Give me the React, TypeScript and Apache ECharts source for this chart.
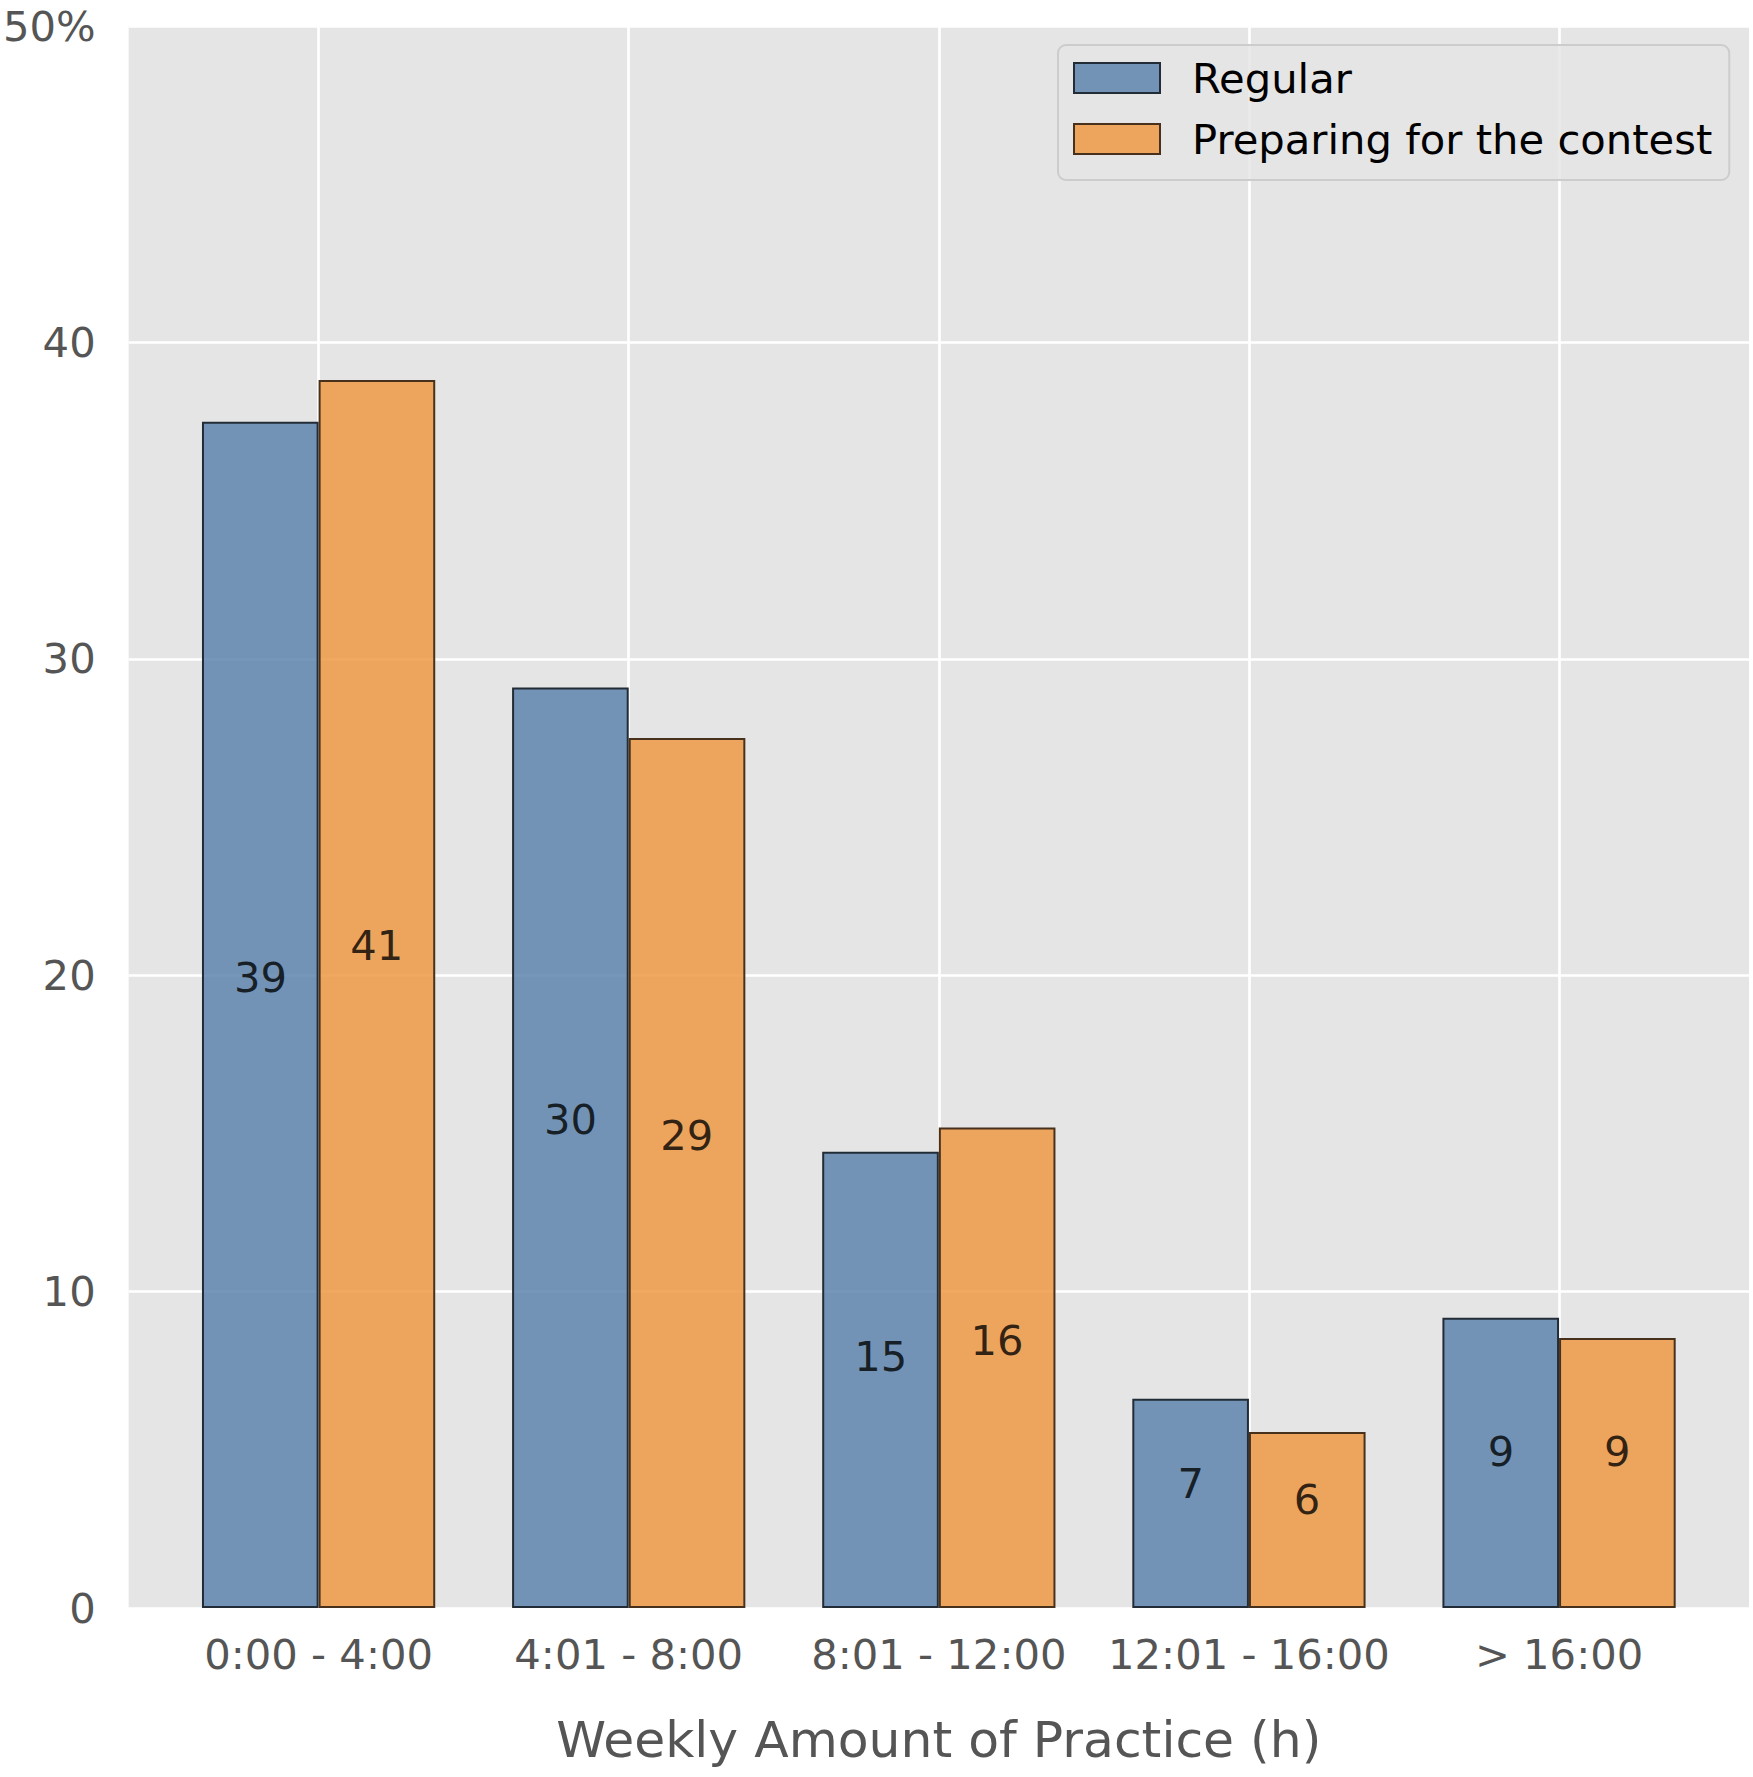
import React, { useEffect, useRef } from "react";
import * as echarts from "echarts";

const categories = ["0:00 - 4:00", "4:01 - 8:00", "8:01 - 12:00", "12:01 - 16:00", "> 16:00"];
const regularValues = [37.49, 29.09, 14.42, 6.61, 9.17];
const preparingValues = [38.81, 27.5, 15.19, 5.56, 8.53];
const regularLabels = [39, 30, 15, 7, 9];
const preparingLabels = [41, 29, 16, 6, 9];
const yTicks = [0, 10, 20, 30, 40, 50];
const seriesNames = ["Regular", "Preparing for the contest"];

const FONT = "DejaVu Sans";
const BAR_W_UNITS = 0.375;

export default function App() {
  const ref = useRef<HTMLDivElement>(null);
  useEffect(() => {
    document.body.style.margin = "0";
    if (!ref.current) return;
    const chart = echarts.init(ref.current, null, { renderer: "svg" });
    const gridLeft = 124;
    const gridRight = 4;
    const width = 1753;
    const xMin = -0.6125;
    const xMax = 4.6125;
    const pxPerUnit = (width - gridLeft - gridRight) / (xMax - xMin);
    const barWidth = BAR_W_UNITS * pxPerUnit;
    const idx = categories.map((_, i) => i);

    const labelStyle = {
      show: true,
      position: "inside",
      offset: [0, -14],
      formatter: (p: any) => `${p.value[2]}`,
      fontFamily: FONT,
      fontSize: 41.7,
      color: "#000000",
    };

    const option: any = {
      animation: false,
      backgroundColor: "#ffffff",
      grid: {
        left: gridLeft,
        right: gridRight,
        top: 26,
        bottom: 169,
        show: true,
        backgroundColor: "#e5e5e5",
        borderWidth: 0,
      },
      legend: {
        data: seriesNames,
        orient: "vertical",
        left: 1058,
        top: 45,
        icon: "rect",
        itemWidth: 86,
        itemHeight: 30,
        itemGap: 19,
        padding: [12, 17, 20, 15],
        backgroundColor: "rgba(229,229,229,0.8)",
        borderColor: "#cccccc",
        borderWidth: 2,
        borderRadius: 8,
        textStyle: {
          fontFamily: FONT,
          fontSize: 41.7,
          color: "#000000",
          padding: [0, 0, 0, 27],
        },
      },
      xAxis: {
        type: "value",
        min: xMin,
        max: xMax,
        axisLine: { show: false },
        axisTick: { show: false, customValues: idx },
        splitLine: { show: true, lineStyle: { color: "#ffffff", width: 2.7 } },
        axisLabel: {
          customValues: idx,
          formatter: (v: number) => categories[Math.round(v)] ?? "",
          fontFamily: FONT,
          fontSize: 41.7,
          color: "#555555",
          margin: 25,
        },
        name: "Weekly Amount of Practice (h)",
        nameLocation: "middle",
        nameGap: 106,
        nameTextStyle: { fontFamily: FONT, fontSize: 50.4, color: "#555555" },
      },
      yAxis: {
        type: "value",
        min: 0,
        max: 50,
        interval: 10,
        axisLine: { show: false },
        axisTick: { show: false },
        splitLine: { show: true, lineStyle: { color: "#ffffff", width: 2.7 } },
        axisLabel: {
          formatter: (v: number) => (v === yTicks[yTicks.length - 1] ? `${v}%` : `${v}`),
          fontFamily: FONT,
          fontSize: 41.7,
          color: "#555555",
          margin: 33,
        },
      },
      series: [
        {
          name: seriesNames[0],
          type: "bar",
          barWidth,
          barGap: "0%",
          data: regularValues.map((v, i) => [i, v]),
          itemStyle: {
            color: "rgba(94,133,173,0.85)",
            borderColor: "#222c36",
            borderWidth: 2,
          },
          z: 2,
        },
        {
          name: seriesNames[1],
          type: "bar",
          barWidth,
          barGap: "0%",
          data: preparingValues.map((v, i) => [i, v]),
          itemStyle: {
            color: "rgba(238,153,68,0.85)",
            borderColor: "#47311c",
            borderWidth: 2,
          },
          z: 2,
        },
        {
          name: "regularLabels",
          type: "scatter",
          symbolSize: 0,
          silent: true,
          z: 5,
          data: regularLabels.map((l, i) => [i - BAR_W_UNITS / 2, l / 2, l]),
          label: labelStyle,
        },
        {
          name: "preparingLabels",
          type: "scatter",
          symbolSize: 0,
          silent: true,
          z: 5,
          data: preparingLabels.map((l, i) => [i + BAR_W_UNITS / 2, l / 2, l]),
          label: labelStyle,
        },
      ],
    };
    chart.setOption(option);
    return () => chart.dispose();
  }, []);
  return <div ref={ref} style={{ width: 1753, height: 1777 }} />;
}
